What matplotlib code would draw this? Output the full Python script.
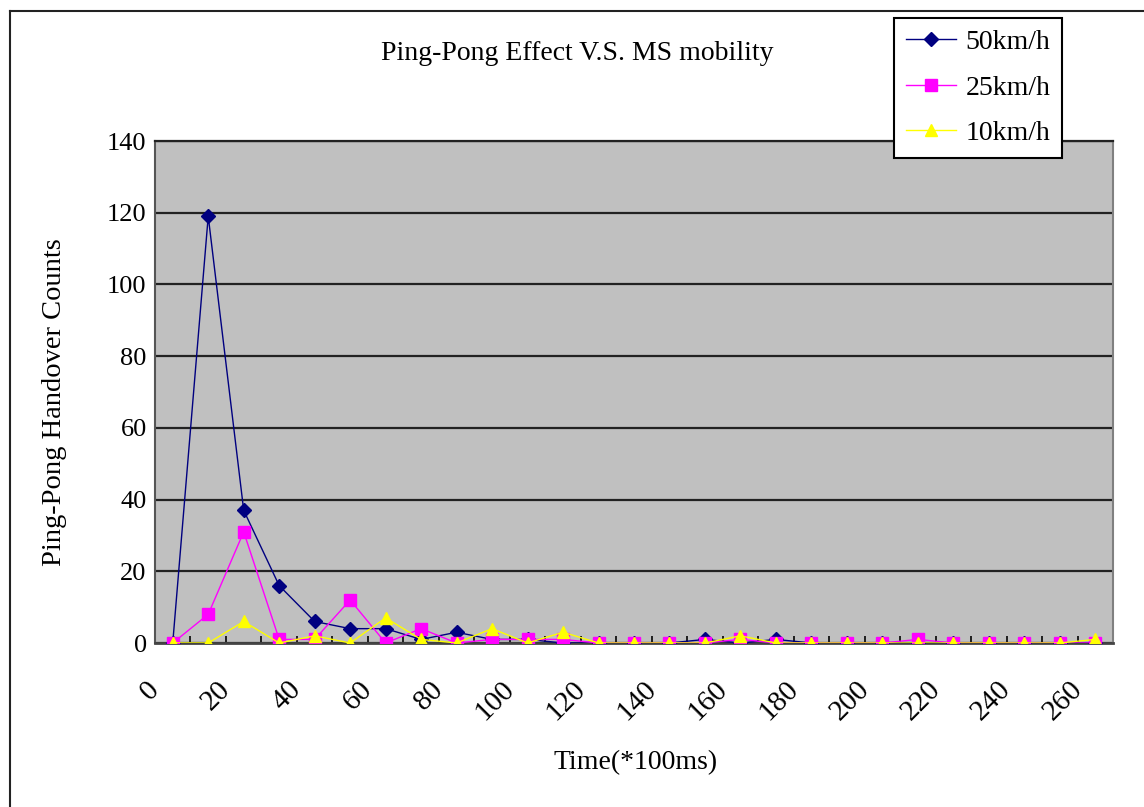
import matplotlib
matplotlib.use('Agg')
import matplotlib.pyplot as plt
from matplotlib.lines import Line2D
from matplotlib.transforms import ScaledTranslation

# time categories (*100ms) and ping-pong handover counts
times = [0, 10, 20, 30, 40, 50, 60, 70, 80, 90, 100, 110, 120, 130,
         140, 150, 160, 170, 180, 190, 200, 210, 220, 230, 240, 250, 260]
speed_50 = [0, 119, 37, 16, 6, 4, 4, 1, 3, 1, 1, 0, 0, 0,
            0, 1, 0, 1, 0, 0, 0, 0, 0, 0, 0, 0, 0]
speed_25 = [0, 8, 31, 1, 1, 12, 0, 4, 0, 1, 1, 1, 0, 0,
            0, 0, 1, 0, 0, 0, 0, 1, 0, 0, 0, 0, 0]
speed_10 = [0, 0, 6, 0, 2, 0, 7, 1, 0, 4, 0, 3, 0, 0,
            0, 0, 2, 0, 0, 0, 0, 0, 0, 0, 0, 0, 1]
labels = ["50km/h", "25km/h", "10km/h"]
y_ticks = [0, 20, 40, 60, 80, 100, 120, 140]
x_labels = [0, 20, 40, 60, 80, 100, 120, 140, 160, 180, 200, 220, 240, 260]

plt.rcParams['font.family'] = ['Liberation Serif', 'DejaVu Serif']

W, H = 1144, 807
fig = plt.figure(figsize=(W / 100, H / 100), dpi=100)
fig.patch.set_facecolor('white')
ax = fig.add_axes([155 / W, 1 - 643 / H, 958 / W, 502 / H])
ax.set_facecolor('#C0C0C0')

ax.plot(times, speed_50, color='#000080', lw=1.0, marker='D', ms=7,
        mfc='#000080', mec='#000080', label=labels[0], zorder=3)
ax.plot(times, speed_25, color='#FF00FF', lw=1.0, marker='s', ms=8,
        mfc='#FF00FF', mec='#FF00FF', label=labels[1], zorder=4)
ax.plot(times, speed_10, color='#FFFF00', lw=1.0, marker='^', ms=9,
        mfc='#FFFF00', mec='#FFFF00', label=labels[2], zorder=5)

ax.set_xlim(times[0] - 5, times[-1] + 5)
ax.set_ylim(0, 140)
ax.set_yticks(y_ticks)
ax.yaxis.grid(True, color='#222222', lw=1.6)
ax.set_axisbelow(True)
ax.tick_params(axis='y', length=0, pad=6, labelsize=19)

# category labels every other category, tick marks at category borders
ax.set_xticks(x_labels)
ax.set_xticklabels([str(v) for v in x_labels], rotation=45, ha='right',
                   va='top')
ax.tick_params(axis='x', which='major', length=0, pad=24, labelsize=21)
ax.set_xticks([t + 5 for t in times[:-1]], minor=True)
ax.tick_params(axis='x', which='minor', direction='in', length=5,
               width=1.3, color='#111111')
shift = ScaledTranslation(-8 / 100, 0, fig.dpi_scale_trans)
for lab in ax.get_xticklabels():
    lab.set_transform(lab.get_transform() + shift)

ax.spines['left'].set_color('#555555')
ax.spines['left'].set_linewidth(1.5)
ax.spines['bottom'].set_color('#444444')
ax.spines['bottom'].set_linewidth(2)
ax.spines['right'].set_color('#808080')
ax.spines['right'].set_linewidth(1.5)
ax.spines['top'].set_color('#222222')
ax.spines['top'].set_linewidth(1.6)

fig.text(577 / W, 1 - 53 / H, "Ping-Pong Effect V.S. MS mobility",
         ha='center', va='center', fontsize=20)
fig.text(55 / W, 1 - 402 / H, "Ping-Pong Handover Counts", rotation=90,
         ha='center', va='center', fontsize=20.5)
fig.text(636 / W, 1 - 763 / H, "Time(*100ms)", ha='center', va='center',
         fontsize=20)

leg = fig.legend(loc='upper left', bbox_to_anchor=(894 / W, 1 - 18 / H),
                 fontsize=20, frameon=True, fancybox=False, framealpha=1,
                 edgecolor='black', handlelength=1.8, handletextpad=0.35,
                 borderpad=0.42, labelspacing=0.72, borderaxespad=0)
leg.get_frame().set_linewidth(1.5)

# outer chart frame (top and left edges only)
fig.add_artist(Line2D([10 / W, 1], [1 - 11 / H, 1 - 11 / H], color='#222222',
                      lw=1.5, transform=fig.transFigure))
fig.add_artist(Line2D([10 / W, 10 / W], [0, 1 - 11 / H], color='#222222',
                      lw=1.5, transform=fig.transFigure))

fig.savefig('out.png', dpi=100)
